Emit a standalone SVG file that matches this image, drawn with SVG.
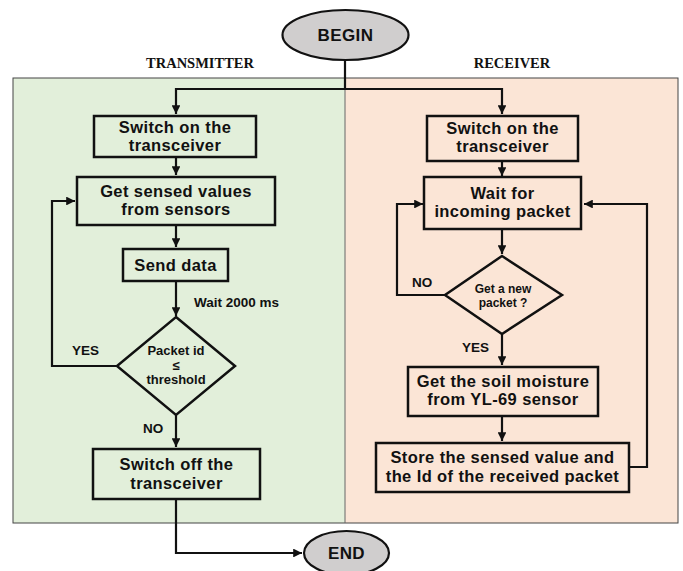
<svg xmlns="http://www.w3.org/2000/svg" width="683" height="571" viewBox="0 0 683 571">
<style>
.box{fill:none;stroke:#111;stroke-width:2.5}
.t{font-family:"Liberation Sans",Arial,sans-serif;font-weight:bold;font-size:16.5px;letter-spacing:0.4px;fill:#111;text-anchor:middle}
.d{font-family:"Liberation Sans",Arial,sans-serif;font-weight:bold;font-size:13px;fill:#111;text-anchor:middle}
.l{font-family:"Liberation Sans",Arial,sans-serif;font-weight:bold;font-size:13.5px;fill:#111}
.h{font-family:"Liberation Serif","Times New Roman",serif;font-weight:bold;font-size:14.5px;fill:#111;text-anchor:middle}
.c{fill:none;stroke:#111;stroke-width:2.2}
.term{fill:#d0cece;stroke:#111;stroke-width:2.2}
</style>
<defs>
<marker id="a" viewBox="0 0 10 10" refX="10" refY="5" markerWidth="4" markerHeight="4" orient="auto" markerUnits="strokeWidth">
<path d="M0,0 L10,5 L0,10 z" fill="#111"/>
</marker>
</defs>
<rect width="683" height="571" fill="#fff"/>
<g id="panels">
<rect x="13" y="78" width="332" height="445" fill="#e2efda"/>
<rect x="345" y="78" width="333" height="445" fill="#fbe5d6"/>
<rect x="13" y="78" width="665" height="445" fill="none" stroke="#444" stroke-width="1"/>
<line x1="345" y1="78" x2="345" y2="523" stroke="#666" stroke-width="1"/>
<text class="h" x="200" y="68">TRANSMITTER</text>
<text class="h" x="512" y="68">RECEIVER</text>
</g>
<g id="connectors">
<path class="c" d="M345,60 V89 H176 V114" marker-end="url(#a)"/>
<path class="c" d="M345,89 H502 V114" marker-end="url(#a)"/>
<path class="c" d="M176,157 V175" marker-end="url(#a)"/>
<path class="c" d="M176,225 V247" marker-end="url(#a)"/>
<path class="c" d="M176,281 V316" marker-end="url(#a)"/>
<path class="c" d="M117,366 H52 V201 H75" marker-end="url(#a)"/>
<path class="c" d="M176,415 V447" marker-end="url(#a)"/>
<path class="c" d="M176,500 V553 H302" marker-end="url(#a)"/>
<path class="c" d="M502,161 V176" marker-end="url(#a)"/>
<path class="c" d="M502,229 V254" marker-end="url(#a)"/>
<path class="c" d="M445,295 H397 V204 H423" marker-end="url(#a)"/>
<path class="c" d="M502,334 V365" marker-end="url(#a)"/>
<path class="c" d="M502,416 V441" marker-end="url(#a)"/>
<path class="c" d="M629,467 H647 V204 H584" marker-end="url(#a)"/>
<text class="l" x="72" y="355">YES</text>
<text class="l" x="143" y="433">NO</text>
<text class="l" x="194" y="307">Wait 2000 ms</text>
<text class="l" x="412" y="287">NO</text>
<text class="l" x="462" y="352">YES</text>
</g>
<g id="begin">
<ellipse class="term" cx="345.5" cy="35" rx="63" ry="25"/>
<text class="t" x="345.5" y="41" style="font-size:17px">BEGIN</text>
</g>
<g id="end">
<ellipse class="term" cx="346.5" cy="553" rx="42.5" ry="22"/>
<text class="t" x="346.5" y="559" style="font-size:17px">END</text>
</g>
<g id="t1">
<rect class="box" x="94" y="116" width="162" height="41"/>
<text class="t" x="175" y="133">Switch on the</text>
<text class="t" x="175" y="151">transceiver</text>
</g>
<g id="t2">
<rect class="box" x="77" y="177" width="198" height="48"/>
<text class="t" x="176" y="197">Get sensed values</text>
<text class="t" x="176" y="215">from sensors</text>
</g>
<g id="t3">
<rect class="box" x="123" y="249" width="105" height="32"/>
<text class="t" x="175.5" y="271">Send data</text>
</g>
<g id="t4">
<polygon class="box" points="176,317 235,366 176,415 117,366"/>
<text class="d" x="176" y="355">Packet id</text>
<text class="d" x="176" y="370">≤</text>
<text class="d" x="176" y="384">threshold</text>
</g>
<g id="t5">
<rect class="box" x="93" y="449" width="167" height="50"/>
<text class="t" x="176.5" y="470">Switch off the</text>
<text class="t" x="176.5" y="489">transceiver</text>
</g>
<g id="r1">
<rect class="box" x="427" y="116" width="151" height="45"/>
<text class="t" x="502.5" y="134">Switch on the</text>
<text class="t" x="502.5" y="152">transceiver</text>
</g>
<g id="r2">
<rect class="box" x="424" y="177" width="157" height="52"/>
<text class="t" x="502.5" y="199">Wait for</text>
<text class="t" x="502.5" y="217">incoming packet</text>
</g>
<g id="r3">
<polygon class="box" points="502,256 562,295 502,334 445,295"/>
<text class="d" x="503" y="293" style="font-size:12px">Get a new</text>
<text class="d" x="503" y="307" style="font-size:12px">packet ?</text>
</g>
<g id="r4">
<rect class="box" x="408" y="367" width="190" height="49"/>
<text class="t" x="503" y="387">Get the soil moisture</text>
<text class="t" x="503" y="405">from YL-69 sensor</text>
</g>
<g id="r5">
<rect class="box" x="376" y="443" width="253" height="49"/>
<text class="t" x="502.5" y="463">Store the sensed value and</text>
<text class="t" x="502.5" y="482">the Id of the received packet</text>
</g>
</svg>
